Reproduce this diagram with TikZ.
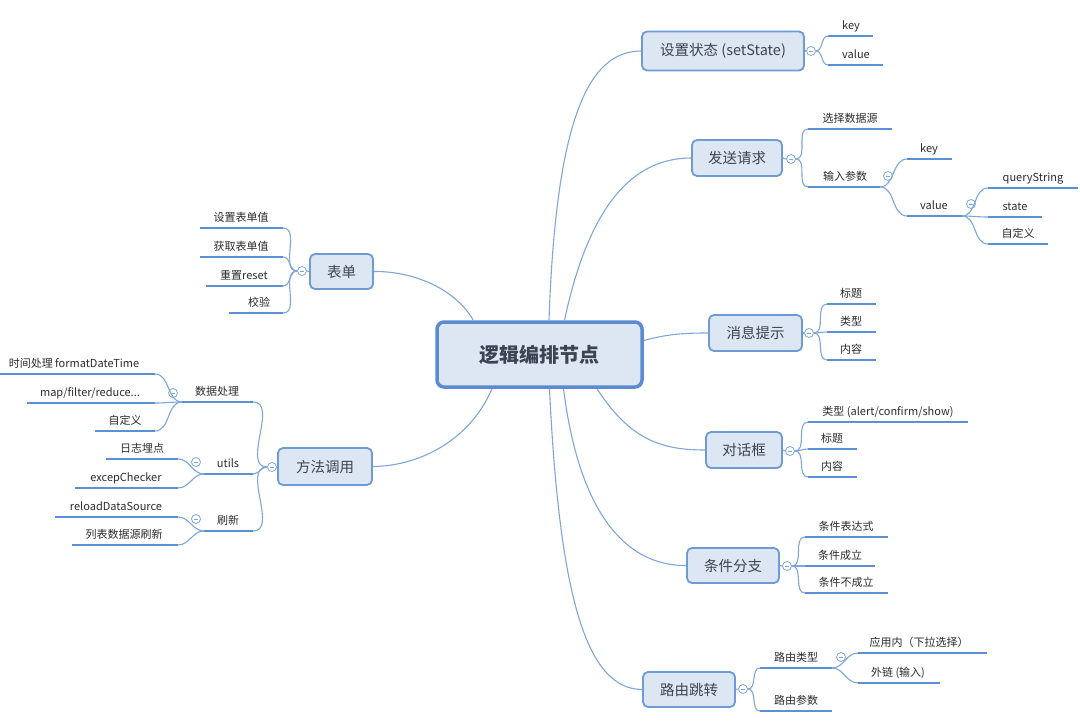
\documentclass[tikz,border=0pt]{standalone}
\usepackage{fontspec}
\setmainfont{Noto Sans CJK SC}
\usetikzlibrary{calc}
\definecolor{lineblue}{HTML}{5B8FD6}
\definecolor{connblue}{HTML}{7EA6DA}
\definecolor{boxfill}{HTML}{DDE6F3}
\definecolor{boxdraw}{HTML}{6E9AD6}
\definecolor{maindraw}{HTML}{5D8BD0}
\definecolor{titleink}{HTML}{3C4353}
\definecolor{leafink}{HTML}{2B2B2B}
% leaf: id, x1, x2, y, text-x, text
\newcommand\mmleaf[6]{%
  \coordinate (#1-w) at (#2,#4);
  \coordinate (#1-e) at (#3,#4);
  \draw[leafline] (#1-w) -- (#1-e);
  \node[leaftext] (#1) at (#5,{#4-7}) {#6};
}
\begin{document}
\begin{tikzpicture}[x=1pt,y=-1pt,
  box/.style={draw=boxdraw, line width=1.8pt, fill=boxfill, rounded corners=5pt,
    text=titleink, font=\fontsize{14.5}{16}\selectfont, inner sep=0pt},
  mainbox/.style={box, draw=maindraw, line width=3.5pt, rounded corners=7pt,
    font=\fontsize{20}{24}\selectfont\bfseries},
  leafline/.style={draw=lineblue, line width=2.6pt},
  leaftext/.style={anchor=base, inner sep=0pt, font=\fontsize{11}{13}\selectfont, text=leafink},
  conn/.style={draw=connblue, line width=1.1pt},
  coll/.style={circle, draw=connblue, fill=white, line width=0.8pt, minimum size=9pt, inner sep=0pt,
    path picture={\draw[connblue, line width=0.8pt]
      ([xshift=-2.2pt]path picture bounding box.center) -- ([xshift=2.2pt]path picture bounding box.center);}}
]
\useasboundingbox (0,0) rectangle (1080,723);

% main and level-1 nodes
\node[mainbox, minimum width=205pt, minimum height=65pt] (main) at (539.5,354.5) {逻辑编排节点};
\node[box, minimum width=162pt, minimum height=39pt] (set) at (723,51) {设置状态 (setState)};
\node[box, minimum width=90pt, minimum height=36pt] (req) at (737,158) {发送请求};
\node[box, minimum width=93pt, minimum height=36pt] (msg) at (755.5,333) {消息提示};
\node[box, minimum width=76pt, minimum height=36pt] (dlg) at (744,450) {对话框};
\node[box, minimum width=92pt, minimum height=35pt] (cond) at (733,565.5) {条件分支};
\node[box, minimum width=92pt, minimum height=35pt] (route) at (689,689.5) {路由跳转};
\node[box, minimum width=63pt, minimum height=35pt] (form) at (341.5,271.5) {表单};
\node[box, minimum width=94pt, minimum height=37pt] (method) at (325,466.5) {方法调用};

% main connectors
\draw[conn] ([xshift=9.5pt]main.north) .. controls (556,120) and (588,51) .. (set.west);
\draw[conn] ([xshift=25pt]main.north) .. controls (588,210) and (630,158) .. (req.west);
\draw[conn] ([xshift=38pt]main.north west) .. controls (455,288) and (412,271) .. (form.east);
\draw[conn] ([yshift=14pt]main.east) .. controls (668,334) and (684,333) .. (msg.west);
\draw[conn] ([xshift=57.5pt]main.south) .. controls (630,440) and (662,450) .. (dlg.west);
\draw[conn] ([xshift=24pt]main.south) .. controls (580,520) and (630,566) .. (cond.west);
\draw[conn] ([xshift=10pt]main.south) .. controls (560,610) and (590,689) .. (route.west);
\draw[conn] ([xshift=-47.5pt]main.south) .. controls (470,440) and (420,466) .. (method.east);

% collapse circles
\node[coll] (cset) at (811,51) {};
\node[coll] (creq) at (791,159) {};
\node[coll] (cmsg) at (809,333) {};
\node[coll] (cdlg) at (790,451) {};
\node[coll] (ccond) at (787,566) {};
\node[coll] (croute) at (743,689) {};
\node[coll] (cform) at (302,271) {};
\node[coll] (cmethod) at (272,467) {};
\draw[conn] (req.east) -- (creq.west);
\draw[conn] (dlg.east) -- (cdlg.west);
\draw[conn] (cond.east) -- (ccond.west);
\draw[conn] (route.east) -- (croute.west);
\draw[conn] (msg.east) -- (cmsg.west);
\draw[conn] (set.east) -- (cset.west);
\draw[conn] (form.west) -- (cform.east);
\draw[conn] (method.west) -- (cmethod.east);

% setState
\mmleaf{sk}{828}{873}{36}{851}{key}
\mmleaf{sv}{828}{883}{65}{856}{value}
\draw[conn] (cset.east) to[out=0,in=180] (sk-w);
\draw[conn] (cset.east) to[out=0,in=180] (sv-w);

% request
\mmleaf{rsrc}{808}{892}{129}{850}{选择数据源}
\mmleaf{rin}{808}{880}{187}{845}{输入参数}
\draw[conn] (creq.east) to[out=0,in=180] (rsrc-w);
\draw[conn] (creq.east) to[out=0,in=180] (rin-w);
\node[coll] (cin) at (888,176) {};
\mmleaf{rk}{907}{952}{159}{929}{key}
\mmleaf{rv}{907}{962}{216}{934}{value}
\draw[conn] (rin-e) to[out=0,in=180] (rk-w);
\draw[conn] (rin-e) to[out=0,in=180] (rv-w);
\node[coll] (cval) at (971,204) {};
\mmleaf{vq}{988}{1078}{188}{1033}{queryString}
\mmleaf{vs}{988}{1042}{217}{1015}{state}
\mmleaf{vc}{988}{1048}{244}{1018}{自定义}
\draw[conn] (rv-e) to[out=0,in=180] (vq-w);
\draw[conn] (rv-e) to[out=0,in=180] (vs-w);
\draw[conn] (rv-e) to[out=0,in=180] (vc-w);

% message
\mmleaf{m1}{827}{876}{304}{851}{标题}
\mmleaf{m2}{827}{876}{332}{851}{类型}
\mmleaf{m3}{827}{876}{360}{851}{内容}
\draw[conn] (cmsg.east) to[out=0,in=180] (m1-w);
\draw[conn] (cmsg.east) to[out=0,in=180] (m2-w);
\draw[conn] (cmsg.east) to[out=0,in=180] (m3-w);

% dialog
\mmleaf{d1}{808}{968}{422}{888}{类型 (alert/confirm/show)}
\mmleaf{d2}{808}{857}{449}{832}{标题}
\mmleaf{d3}{808}{857}{477}{832}{内容}
\draw[conn] (cdlg.east) to[out=0,in=180] (d1-w);
\draw[conn] (cdlg.east) to[out=0,in=180] (d2-w);
\draw[conn] (cdlg.east) to[out=0,in=180] (d3-w);

% condition
\mmleaf{k1}{805}{888}{537}{846}{条件表达式}
\mmleaf{k2}{805}{875}{566}{840}{条件成立}
\mmleaf{k3}{805}{888}{593}{846}{条件不成立}
\draw[conn] (ccond.east) to[out=0,in=180] (k1-w);
\draw[conn] (ccond.east) to[out=0,in=180] (k2-w);
\draw[conn] (ccond.east) to[out=0,in=180] (k3-w);

% route
\mmleaf{rt}{760}{832}{668}{796}{路由类型}
\mmleaf{rp}{760}{832}{711}{796}{路由参数}
\draw[conn] (croute.east) to[out=0,in=180] (rt-w);
\draw[conn] (croute.east) to[out=0,in=180] (rp-w);
\node[coll] (crtype) at (841,657) {};
\mmleaf{ra}{858}{987}{653}{919}{应用内（下拉选择）}
\mmleaf{rl}{858}{940}{683}{898}{外链 (输入)}
\draw[conn] (rt-e) to[out=0,in=180] (ra-w);
\draw[conn] (rt-e) to[out=0,in=180] (rl-w);

% form
\mmleaf{f1}{200}{283}{228}{241}{设置表单值}
\mmleaf{f2}{200}{283}{257}{241}{获取表单值}
\mmleaf{f3}{206}{283}{286}{244}{重置reset}
\mmleaf{f4}{229}{283}{313}{259}{校验}
\draw[conn] (cform.west) to[out=180,in=0] (f1-e);
\draw[conn] (cform.west) to[out=180,in=0] (f2-e);
\draw[conn] (cform.west) to[out=180,in=0] (f3-e);
\draw[conn] (cform.west) to[out=180,in=0] (f4-e);

% method
\mmleaf{md}{182}{253}{402}{217}{数据处理}
\mmleaf{mu}{204}{253}{474}{228}{utils}
\mmleaf{mr}{204}{253}{531}{228}{刷新}
\draw[conn] (cmethod.west) to[out=180,in=0] (md-e);
\draw[conn] (cmethod.west) to[out=180,in=0] (mu-e);
\draw[conn] (cmethod.west) to[out=180,in=0] (mr-e);

\node[coll] (cdata) at (173,393) {};
\mmleaf{dt}{0}{155}{374}{74}{时间处理 formatDateTime}
\mmleaf{dm}{27}{155}{403}{90}{map/filter/reduce...}
\mmleaf{dc}{95}{155}{431}{125}{自定义}
\draw[conn] (md-w) to[out=180,in=0] (dt-e);
\draw[conn] (md-w) to[out=180,in=0] (dm-e);
\draw[conn] (md-w) to[out=180,in=0] (dc-e);

\node[coll] (cutils) at (196,462) {};
\mmleaf{ul}{106}{178}{459}{142}{日志埋点}
\mmleaf{ue}{75}{178}{488}{126}{excepChecker}
\draw[conn] (mu-w) to[out=180,in=0] (ul-e);
\draw[conn] (mu-w) to[out=180,in=0] (ue-e);

\node[coll] (crefresh) at (196,519) {};
\mmleaf{fr}{55}{178}{517}{116}{reloadDataSource}
\mmleaf{fl}{72}{178}{545}{124}{列表数据源刷新}
\draw[conn] (mr-w) to[out=180,in=0] (fr-e);
\draw[conn] (mr-w) to[out=180,in=0] (fl-e);
\end{tikzpicture}
\end{document}
